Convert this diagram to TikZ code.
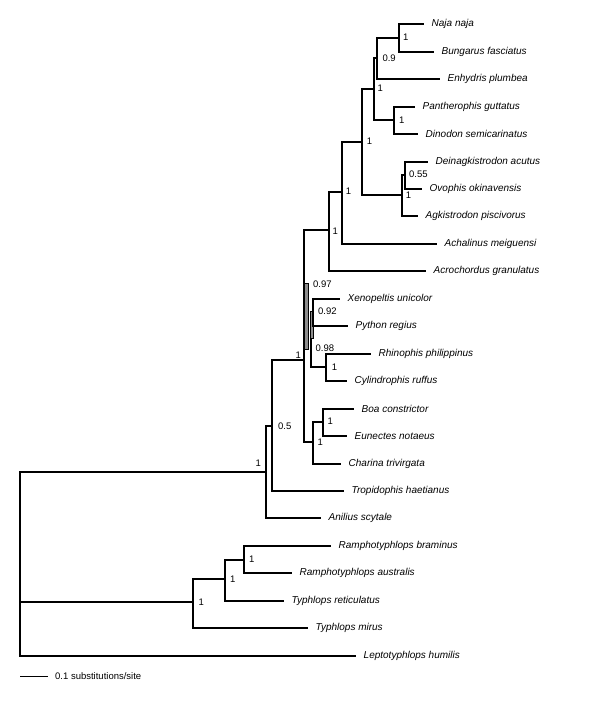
\documentclass[tikz,border=0pt]{standalone}
\usepackage{fontspec}
\setmainfont{Liberation Sans}
\usepackage{tikz}
\usetikzlibrary{positioning}
\tikzstyle{branch} = [draw, line width=2pt, line join=miter]
\tikzstyle{taxon} = [anchor=west, inner sep=0pt, xshift=7.5pt, text=black,
font=\fontsize{10}{12}\selectfont\itshape]
\tikzstyle{support} = [anchor=west, inner sep=0pt, text=black, font=\fontsize{9.5}{11}\selectfont]
\tikzstyle{polybox} = [draw=black, line width=1pt, fill=black!45]
\tikzstyle{scalebar} = [draw, line width=1pt]

\begin{document}
\begin{tikzpicture}[x=1pt, y=-1pt]
\useasboundingbox (0,0) rectangle (600,727);

% tips =============================
\coordinate (tNaja) at (424,24);
\coordinate (tBung) at (434,52);
\coordinate (tEnhy) at (440,79);
\coordinate (tPant) at (415,107);
\coordinate (tDino) at (418,134);
\coordinate (tDein) at (428,162);
\coordinate (tOvop) at (422,189);
\coordinate (tAgki) at (418,216);
\coordinate (tAcha) at (437,244);
\coordinate (tAcro) at (426,271);
\coordinate (tXeno) at (340,299);
\coordinate (tPyth) at (348,326);
\coordinate (tRhin) at (371,354);
\coordinate (tCyli) at (347,381);
\coordinate (tBoac) at (354,409);
\coordinate (tEune) at (347,436);
\coordinate (tChar) at (341,464);
\coordinate (tTrop) at (344,491);
\coordinate (tAnil) at (321,518);
\coordinate (tBram) at (331,546);
\coordinate (tAust) at (292,573);
\coordinate (tReti) at (284,601);
\coordinate (tMiru) at (308,628);
\coordinate (tLept) at (356,656);

\node[taxon] (naja) at (tNaja) {Naja naja};
\node[taxon] (bung) at (tBung) {Bungarus fasciatus};
\node[taxon] (enhy) at (tEnhy) {Enhydris plumbea};
\node[taxon] (pant) at (tPant) {Pantherophis guttatus};
\node[taxon] (dino) at (tDino) {Dinodon semicarinatus};
\node[taxon] (dein) at (tDein) {Deinagkistrodon acutus};
\node[taxon] (ovop) at (tOvop) {Ovophis okinavensis};
\node[taxon] (agki) at (tAgki) {Agkistrodon piscivorus};
\node[taxon] (acha) at (tAcha) {Achalinus meiguensi};
\node[taxon] (acro) at (tAcro) {Acrochordus granulatus};
\node[taxon] (xeno) at (tXeno) {Xenopeltis unicolor};
\node[taxon] (pyth) at (tPyth) {Python regius};
\node[taxon] (rhin) at (tRhin) {Rhinophis philippinus};
\node[taxon] (cyli) at (tCyli) {Cylindrophis ruffus};
\node[taxon] (boac) at (tBoac) {Boa constrictor};
\node[taxon] (eune) at (tEune) {Eunectes notaeus};
\node[taxon] (char) at (tChar) {Charina trivirgata};
\node[taxon] (trop) at (tTrop) {Tropidophis haetianus};
\node[taxon] (anil) at (tAnil) {Anilius scytale};
\node[taxon] (bram) at (tBram) {Ramphotyphlops braminus};
\node[taxon] (aust) at (tAust) {Ramphotyphlops australis};
\node[taxon] (reti) at (tReti) {Typhlops reticulatus};
\node[taxon] (miru) at (tMiru) {Typhlops mirus};
\node[taxon] (lept) at (tLept) {Leptotyphlops humilis};

% internal nodes =============================
\coordinate (nNaja) at (399,38);
\coordinate (nEnhy) at (377,58);
\coordinate (nPant) at (394,120);
\coordinate (nColu) at (374,89);
\coordinate (nDein) at (405,175);
\coordinate (nVipe) at (402,195);
\coordinate (nColo) at (362,142);
\coordinate (nCae1) at (342,192);
\coordinate (nCaen) at (329,230);
\coordinate (nAle2) at (304,360);
\coordinate (nXeno) at (313,312);
\coordinate (nPoly) at (311,338);
\coordinate (nRhin) at (326,367);
\coordinate (nBoa2) at (323,422);
\coordinate (nBoac) at (313,442);
\coordinate (nHeno) at (272,426);
\coordinate (nAlet) at (266,472);
\coordinate (nTyp3) at (244,560);
\coordinate (nTyp2) at (225,579);
\coordinate (nTyph) at (193,602);
\coordinate (root) at (20,602);

% grey short branches
\draw[polybox] (304.5,283.5) rectangle (308.5,349.5);
\draw[polybox] (310.5,311.5) rectangle (313.5,338.5);

% edges
\draw[branch] (nNaja) |- (tNaja);
\draw[branch] (nNaja) |- (tBung);
\draw[branch] (nEnhy) |- (nNaja);
\draw[branch] (nEnhy) |- (tEnhy);
\draw[branch] (nPant) |- (tPant);
\draw[branch] (nPant) |- (tDino);
\draw[branch] (nColu) |- (nEnhy);
\draw[branch] (nColu) |- (nPant);
\draw[branch] (nDein) |- (tDein);
\draw[branch] (nDein) |- (tOvop);
\draw[branch] (nVipe) |- (nDein);
\draw[branch] (nVipe) |- (tAgki);
\draw[branch] (nColo) |- (nColu);
\draw[branch] (nColo) |- (nVipe);
\draw[branch] (nCae1) |- (nColo);
\draw[branch] (nCae1) |- (tAcha);
\draw[branch] (nCaen) |- (nCae1);
\draw[branch] (nCaen) |- (tAcro);
\draw[branch] (nAle2) |- (nCaen);
\draw[branch] (nAle2) |- (nBoac);
\draw[branch] (nXeno) |- (tXeno);
\draw[branch] (nXeno) |- (tPyth);
\draw[branch] (nPoly) |- (nRhin);
\draw[branch] (nRhin) |- (tRhin);
\draw[branch] (nRhin) |- (tCyli);
\draw[branch] (nBoa2) |- (tBoac);
\draw[branch] (nBoa2) |- (tEune);
\draw[branch] (nBoac) |- (nBoa2);
\draw[branch] (nBoac) |- (tChar);
\draw[branch] (nHeno) |- (nAle2);
\draw[branch] (nHeno) |- (tTrop);
\draw[branch] (nAlet) |- (nHeno);
\draw[branch] (nAlet) |- (tAnil);
\draw[branch] (nTyp3) |- (tBram);
\draw[branch] (nTyp3) |- (tAust);
\draw[branch] (nTyp2) |- (nTyp3);
\draw[branch] (nTyp2) |- (tReti);
\draw[branch] (nTyph) |- (nTyp2);
\draw[branch] (nTyph) |- (tMiru);
\draw[branch] (root) |- (nAlet);
\draw[branch] (root) |- (nTyph);
\draw[branch] (root) |- (tLept);

% support values
\node[support] (s01) at (403,37.5) {1};
\node[support] (s02) at (382.3,58.5) {0.9};
\node[support] (s03) at (377.4,88.5) {1};
\node[support] (s04) at (399,120) {1};
\node[support] (s05) at (409,174) {0.55};
\node[support] (s06) at (405.7,195.5) {1};
\node[support] (s07) at (366.7,141) {1};
\node[support] (s08) at (345.7,191) {1};
\node[support] (s09) at (332.4,231) {1};
\node[support] (s10) at (313,284) {0.97};
\node[support] (s11) at (318,311.7) {0.92};
\node[support] (s12) at (315.5,348) {0.98};
\node[support, anchor=east] (s13) at (301,355) {1};
\node[support] (s14) at (331.7,367) {1};
\node[support] (s15) at (327.4,421.5) {1};
\node[support] (s16) at (317.4,442) {1};
\node[support] (s17) at (278,426.5) {0.5};
\node[support, anchor=east] (s18) at (261,463) {1};
\node[support] (s19) at (249,559.3) {1};
\node[support] (s20) at (230,579.3) {1};
\node[support] (s21) at (198.4,602.3) {1};

% scale bar
\coordinate (sb0) at (20,676.5);
\coordinate (sb1) at (48,676.5);
\draw[scalebar] (sb0) -- (sb1);
\node[support, right=7pt of sb1] (sbtext) {0.1 substitutions/site};

\end{tikzpicture}
\end{document}
